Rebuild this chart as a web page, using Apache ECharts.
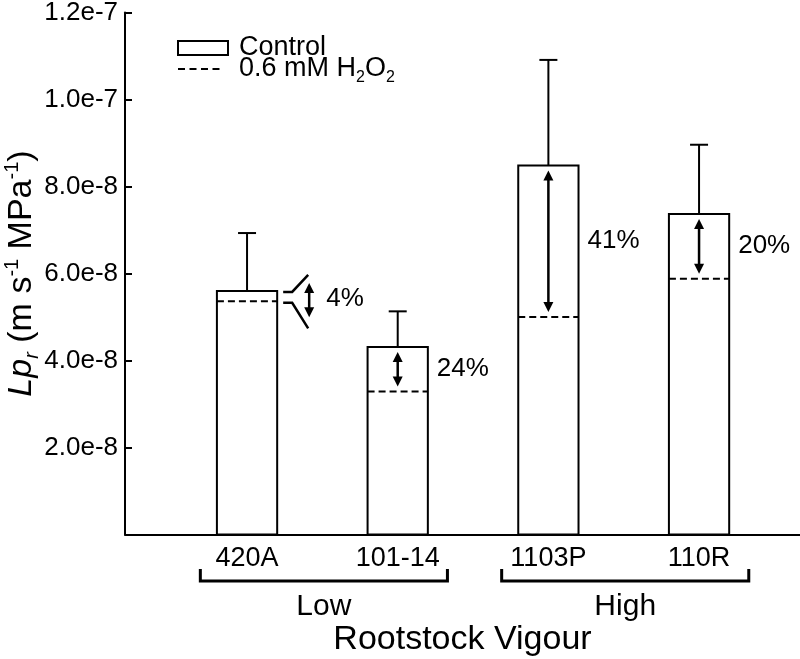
<!DOCTYPE html>
<html>
<head>
<meta charset="utf-8">
<script src="https://cdn.jsdelivr.net/npm/echarts@6/dist/echarts.min.js"></script>
<style>
  html, body { margin: 0; padding: 0; background: #fff; }
  #chart { width: 800px; height: 659px; }
</style>
</head>
<body>
<div id="chart"></div>
<script>
// rootstocks and their vigour group
const categories = ['420A', '101-14', '1103P', '110R'];
const vigour = ['Low', 'Low', 'High', 'High'];

// Lpr values (m s-1 MPa-1)
const control = [5.60e-8, 4.31e-8, 8.48e-8, 7.37e-8];
const controlErr = [1.33e-8, 0.82e-8, 2.43e-8, 1.59e-8];
const peroxide = [5.36e-8, 3.29e-8, 5.00e-8, 5.88e-8];
const reduction = [4, 24, 41, 20];

const yTickLabels = ['', '2.0e-8', '4.0e-8', '6.0e-8', '8.0e-8', '1.0e-7', '1.2e-7'];

const FONT = 'Liberation Sans, Arial, Helvetica, sans-serif';
const BAR_W = 0.4;

const chart = echarts.init(document.getElementById('chart'));

// double headed arrow between y1 (top) and y2 (bottom)
function arrow(x, y1, y2) {
  const h = 10, w = 5;
  return [
    { type: 'line', shape: { x1: x, y1: y1 + h - 1, x2: x, y2: y2 - h + 1 }, style: { stroke: '#000', lineWidth: 2.5 } },
    { type: 'polygon', shape: { points: [[x, y1], [x - w, y1 + h], [x + w, y1 + h]] }, style: { fill: '#000' } },
    { type: 'polygon', shape: { points: [[x, y2], [x - w, y2 - h], [x + w, y2 - h]] }, style: { fill: '#000' } }
  ];
}

function txt(text, x, y, size, align) {
  return {
    type: 'text',
    style: { text: text, x: x, y: y, fontSize: size, fontFamily: FONT, fill: '#000', align: align || 'center', verticalAlign: 'middle' }
  };
}

// bars with error bars
const renderControl = (params, api) => {
  const x = api.value(0), v = api.value(1), e = api.value(2);
  const base = api.coord([x, 0]);
  const top = api.coord([x, v]);
  const errTop = api.coord([x, v + e]);
  const half = api.size([BAR_W, 0])[0] / 2;
  return {
    type: 'group',
    children: [
      { type: 'line', shape: { x1: top[0], y1: top[1], x2: top[0], y2: errTop[1] }, style: { stroke: '#000', lineWidth: 2 } },
      { type: 'line', shape: { x1: top[0] - 9, y1: errTop[1], x2: top[0] + 9, y2: errTop[1] }, style: { stroke: '#000', lineWidth: 2 } },
      { type: 'rect', shape: { x: base[0] - half, y: top[1], width: half * 2, height: base[1] - top[1] }, style: { fill: '#fff', stroke: '#000', lineWidth: 2 } }
    ]
  };
};

// dashed H2O2 level, arrow and % reduction
const renderPeroxide = (params, api) => {
  const x = api.value(0), p = api.value(1), c = api.value(2), pct = api.value(3);
  const dash = api.coord([x, p]);
  const top = api.coord([x, c]);
  const half = api.size([BAR_W, 0])[0] / 2;
  const right = dash[0] + half;
  const children = [
    { type: 'line', shape: { x1: dash[0] - half, y1: dash[1], x2: right, y2: dash[1] }, style: { stroke: '#000', lineWidth: 2, lineDash: [7, 4] } }
  ];
  const mid = (top[1] + dash[1]) / 2;
  if (dash[1] - top[1] < 24) {
    // gap too small: pull the difference out of the bar
    const ls = { stroke: '#000', lineWidth: 2.5, fill: null };
    children.push({ type: 'polyline', shape: { points: [[right + 6, top[1] + 1], [right + 15, top[1] + 1], [right + 31, top[1] - 16]] }, style: ls });
    children.push({ type: 'polyline', shape: { points: [[right + 6, dash[1] + 1.5], [right + 15, dash[1] + 1.5], [right + 31, dash[1] + 27]] }, style: ls });
    children.push(...arrow(right + 32, top[1] - 8, dash[1] + 16));
    children.push(txt(pct + '%', right + 49, mid + 3, 26, 'left'));
  } else {
    children.push(...arrow(dash[0], top[1] + 5, dash[1] - 5));
    children.push(txt(pct + '%', right + 9, mid, 26, 'left'));
  }
  return { type: 'group', children: children };
};

// rootstock names under the axis
const renderNames = (params, api) => {
  const pt = api.coord([api.value(0), 0]);
  return txt(categories[params.dataIndex], pt[0], pt[1] + 24, 27);
};

// vigour brackets
const groups = vigour.filter((g, i) => vigour.indexOf(g) === i);
const renderGroups = (params, api) => {
  const a = api.coord([api.value(0) - 0.31, 0]);
  const b = api.coord([api.value(1) + 0.33, 0]);
  const y = a[1] + 46.5;
  return {
    type: 'group',
    children: [
      { type: 'polyline', shape: { points: [[a[0], y - 12], [a[0], y], [b[0], y], [b[0], y - 12]] }, style: { stroke: '#000', lineWidth: 3, fill: null } },
      txt(groups[params.dataIndex], (a[0] + b[0]) / 2, a[1] + 72, 30)
    ]
  };
};

const option = {
  animation: false,
  backgroundColor: '#fff',
  grid: { left: 125, right: 0, top: 12.5, bottom: 124.5, containLabel: false, outerBoundsMode: 'none' },
  legend: {
    orient: 'vertical',
    left: 177,
    top: 34.5,
    padding: 0,
    itemWidth: 50,
    itemHeight: 14,
    itemGap: -6,
    selectedMode: false,
    data: [
      { name: 'Control', icon: 'rect', itemStyle: { color: '#fff', borderColor: '#000', borderWidth: 2 } },
      {
        name: '0.6 mM H2O2',
        icon: 'path://M0,0h7v2h-7z M11.5,0h7v2h-7z M23,0h7v2h-7z M34.5,0h7v2h-7z M50,0.9h0.01v0.2h-0.01z',
        itemStyle: { color: '#000', borderWidth: 0 }
      }
    ],
    formatter: name => name === 'Control' ? '{t|Control}' : '{m|0.6 mM H}{s|2}{m|O}{s|2}',
    textStyle: {
      fontFamily: FONT,
      fontSize: 27,
      color: '#000',
      padding: [0, 0, 0, 6],
      rich: {
        t: { fontFamily: FONT, fontSize: 27, lineHeight: 26, color: '#000' },
        m: { fontFamily: FONT, fontSize: 27, lineHeight: 34, color: '#000' },
        s: { fontFamily: FONT, fontSize: 16, lineHeight: 16, color: '#000', verticalAlign: 'bottom' }
      }
    }
  },
  xAxis: {
    type: 'value',
    min: 0.19,
    max: 4.67,
    name: 'Rootstock Vigour',
    nameLocation: 'middle',
    nameGap: 88,
    nameTextStyle: { fontFamily: FONT, fontSize: 34, color: '#000' },
    axisLine: { show: true, lineStyle: { color: '#000', width: 2 } },
    axisTick: { show: false },
    axisLabel: { show: false },
    splitLine: { show: false }
  },
  yAxis: {
    type: 'value',
    min: 0,
    max: 1.2e-7,
    interval: 2e-8,
    name: '{i|Lp}{is|r}{t| (m s}{sup|-1}{t| MPa}{sup|-1}{t|)}',
    nameLocation: 'middle',
    nameRotate: 90,
    nameGap: 83,
    nameMoveOverlap: false,
    nameTextStyle: {
      color: '#000',
      rich: {
        i: { fontFamily: FONT, fontSize: 34, fontStyle: 'italic', lineHeight: 40, color: '#000' },
        is: { fontFamily: FONT, fontSize: 20, fontStyle: 'italic', lineHeight: 20, color: '#000', verticalAlign: 'bottom' },
        t: { fontFamily: FONT, fontSize: 34, lineHeight: 40, color: '#000' },
        sup: { fontFamily: FONT, fontSize: 20, lineHeight: 20, color: '#000', verticalAlign: 'top' }
      }
    },
    axisLine: { show: true, lineStyle: { color: '#000', width: 2 } },
    axisTick: { show: true, inside: true, length: 7, lineStyle: { color: '#000', width: 2 } },
    axisLabel: {
      margin: 7,
      fontFamily: FONT,
      fontSize: 26,
      color: '#000',
      formatter: (val, idx) => yTickLabels[idx]
    },
    splitLine: { show: false }
  },
  series: [
    {
      name: 'Control',
      type: 'custom',
      clip: false,
      renderItem: renderControl,
      encode: { x: 0, y: 1 },
      data: categories.map((c, i) => [i + 1, control[i], controlErr[i]])
    },
    {
      name: '0.6 mM H2O2',
      type: 'custom',
      clip: false,
      renderItem: renderPeroxide,
      encode: { x: 0, y: 1 },
      data: categories.map((c, i) => [i + 1, peroxide[i], control[i], reduction[i]]),
      z: 3
    },
    {
      name: 'names',
      type: 'custom',
      clip: false,
      silent: true,
      renderItem: renderNames,
      encode: { x: 0 },
      data: categories.map((c, i) => [i + 1])
    },
    {
      name: 'groups',
      type: 'custom',
      clip: false,
      silent: true,
      renderItem: renderGroups,
      encode: { x: [0, 1] },
      data: groups.map(g => [vigour.indexOf(g) + 1, vigour.lastIndexOf(g) + 1])
    }
  ]
};

chart.setOption(option);
</script>
</body>
</html>
